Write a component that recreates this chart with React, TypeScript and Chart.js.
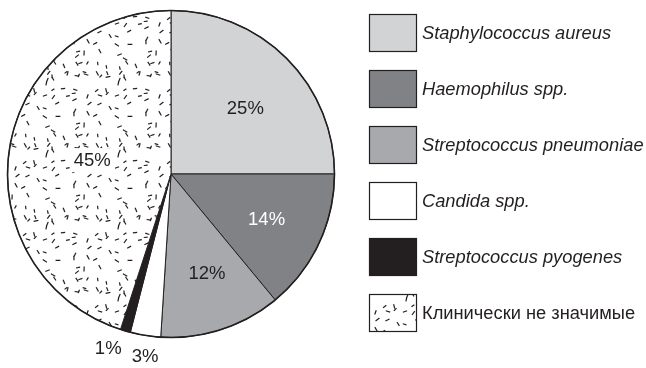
import React, { useEffect, useRef } from "react";
import { Chart, registerables } from "chart.js";

Chart.register(...registerables);

// Pathogen shares, percent
const categories = [
  "Staphylococcus aureus",
  "Haemophilus spp.",
  "Streptococcus pneumoniae",
  "Candida spp.",
  "Streptococcus pyogenes",
  "Клинически не значимые",
];
const shares = [25, 14, 12, 3, 1, 45];
const valueLabels = ["25%", "14%", "12%", "3%", "1%", "45%"];

// Styling per slice
const sliceFills = ["#d1d3d4", "#808285", "#a7a9ac", "#ffffff", "#231f20", "pattern"];
const labelColors = ["#231f20", "#ffffff", "#231f20", "#231f20", "#231f20", "#231f20"];
// label placement: distance as a fraction of the radius, and a turn (degrees) off the slice middle
const labelRadius = [0.607, 0.646, 0.642, 1.121, 1.128, 0.489];
const labelTurn = [3.5, 0, -2, -0.9, 3.7, 1];
const italicNames = [true, true, true, true, true, false];

const INK = "#231f20";
const FONT = "'Liberation Sans', Arial, Helvetica, sans-serif";

// Speckled fill: short dashes scattered at varying angles (seeded, so it is stable)
function makeSpeckle(): CanvasPattern | string {
  const size = 72;
  const off = document.createElement("canvas");
  off.width = size;
  off.height = size;
  const ctx = off.getContext("2d");
  if (!ctx) return "#ffffff";
  ctx.fillStyle = "#ffffff";
  ctx.fillRect(0, 0, size, size);
  let seed = 987;
  const rnd = () => {
    seed = (seed * 1103515245 + 12345) & 0x7fffffff;
    return seed / 0x7fffffff;
  };
  ctx.strokeStyle = INK;
  ctx.lineWidth = 1.2;
  ctx.lineCap = "butt";
  // jittered grid keeps the dashes evenly spread
  const cell = 10;
  const cells = size / cell;
  for (let gx = 0; gx < cells; gx++) {
    for (let gy = 0; gy < cells; gy++) {
      if (rnd() < 0.15) continue;
      const x = gx * cell + 1 + rnd() * (cell - 2);
      const y = gy * cell + 1 + rnd() * (cell - 2);
      const a = rnd() * Math.PI;
      const len = 3.5 + rnd() * 1.5;
      const dx = (Math.cos(a) * len) / 2;
      const dy = (Math.sin(a) * len) / 2;
      for (const ox of [-size, 0, size]) {
        for (const oy of [-size, 0, size]) {
          ctx.beginPath();
          ctx.moveTo(x + ox - dx, y + oy - dy);
          ctx.lineTo(x + ox + dx, y + oy + dy);
          ctx.stroke();
        }
      }
    }
  }
  return ctx.createPattern(off, "repeat") || "#ffffff";
}

const annotations = {
  id: "pieAnnotations",
  afterDatasetsDraw(chart: any) {
    const ctx = chart.ctx;
    const meta = chart.getDatasetMeta(0);
    const fills = chart.data.datasets[0].backgroundColor as any[];
    ctx.save();

    // heavier outer rim
    const first = meta.data[0] as any;
    ctx.beginPath();
    ctx.arc(first.x, first.y, first.outerRadius, 0, Math.PI * 2);
    ctx.strokeStyle = INK;
    ctx.lineWidth = 1.6;
    ctx.stroke();

    // value labels
    ctx.font = `18.5px ${FONT}`;
    ctx.textAlign = "center";
    ctx.textBaseline = "middle";
    meta.data.forEach((arc: any, i: number) => {
      const mid = (arc.startAngle + arc.endAngle) / 2 + (labelTurn[i] * Math.PI) / 180;
      const r = arc.outerRadius * labelRadius[i];
      const x = arc.x + Math.cos(mid) * r;
      const y = arc.y + Math.sin(mid) * r;
      if (sliceFills[i] === "pattern") {
        // keep the speckle clear of the label
        const w = ctx.measureText(valueLabels[i]).width;
        ctx.fillStyle = "#ffffff";
        ctx.fillRect(x - w / 2 - 4, y - 12, w + 8, 24);
      }
      ctx.fillStyle = labelColors[i];
      ctx.fillText(valueLabels[i], x, y + 1);
    });

    // legend
    const boxX = 369;
    const boxW = 48;
    const boxH = 38;
    const top = 14;
    const step = 56;
    categories.forEach((name, i) => {
      const y = top + i * step;
      ctx.fillStyle = fills[i];
      ctx.fillRect(boxX, y, boxW, boxH);
      ctx.strokeStyle = INK;
      ctx.lineWidth = 1.2;
      ctx.strokeRect(boxX + 0.5, y + 0.5, boxW - 1, boxH - 1);
      ctx.fillStyle = INK;
      ctx.textAlign = "left";
      ctx.font = `${italicNames[i] ? "italic " : ""}18.3px ${FONT}`;
      ctx.fillText(name, boxX + boxW + 5, y + boxH / 2 + 1);
    });
    ctx.restore();
  },
};

export default function App() {
  const ref = useRef<HTMLCanvasElement>(null);

  useEffect(() => {
    document.body.style.margin = "0";
    const canvas = ref.current;
    if (!canvas) return;
    const speckle = makeSpeckle();
    const fills = sliceFills.map((c) => (c === "pattern" ? speckle : c));
    const chart = new Chart(canvas, {
      type: "pie",
      data: {
        labels: categories,
        datasets: [
          {
            data: shares,
            backgroundColor: fills as any,
            borderColor: INK,
            borderWidth: 1,
          },
        ],
      },
      options: {
        responsive: false,
        animation: false,
        events: [],
        layout: { padding: { left: 7, top: 10, right: 311, bottom: 30 } },
        plugins: {
          legend: { display: false },
          tooltip: { enabled: false },
        },
      },
      plugins: [annotations],
    });
    return () => chart.destroy();
  }, []);

  return (
    <div style={{ width: 646, height: 368, background: "#ffffff" }}>
      <canvas ref={ref} width={646} height={368} />
    </div>
  );
}
